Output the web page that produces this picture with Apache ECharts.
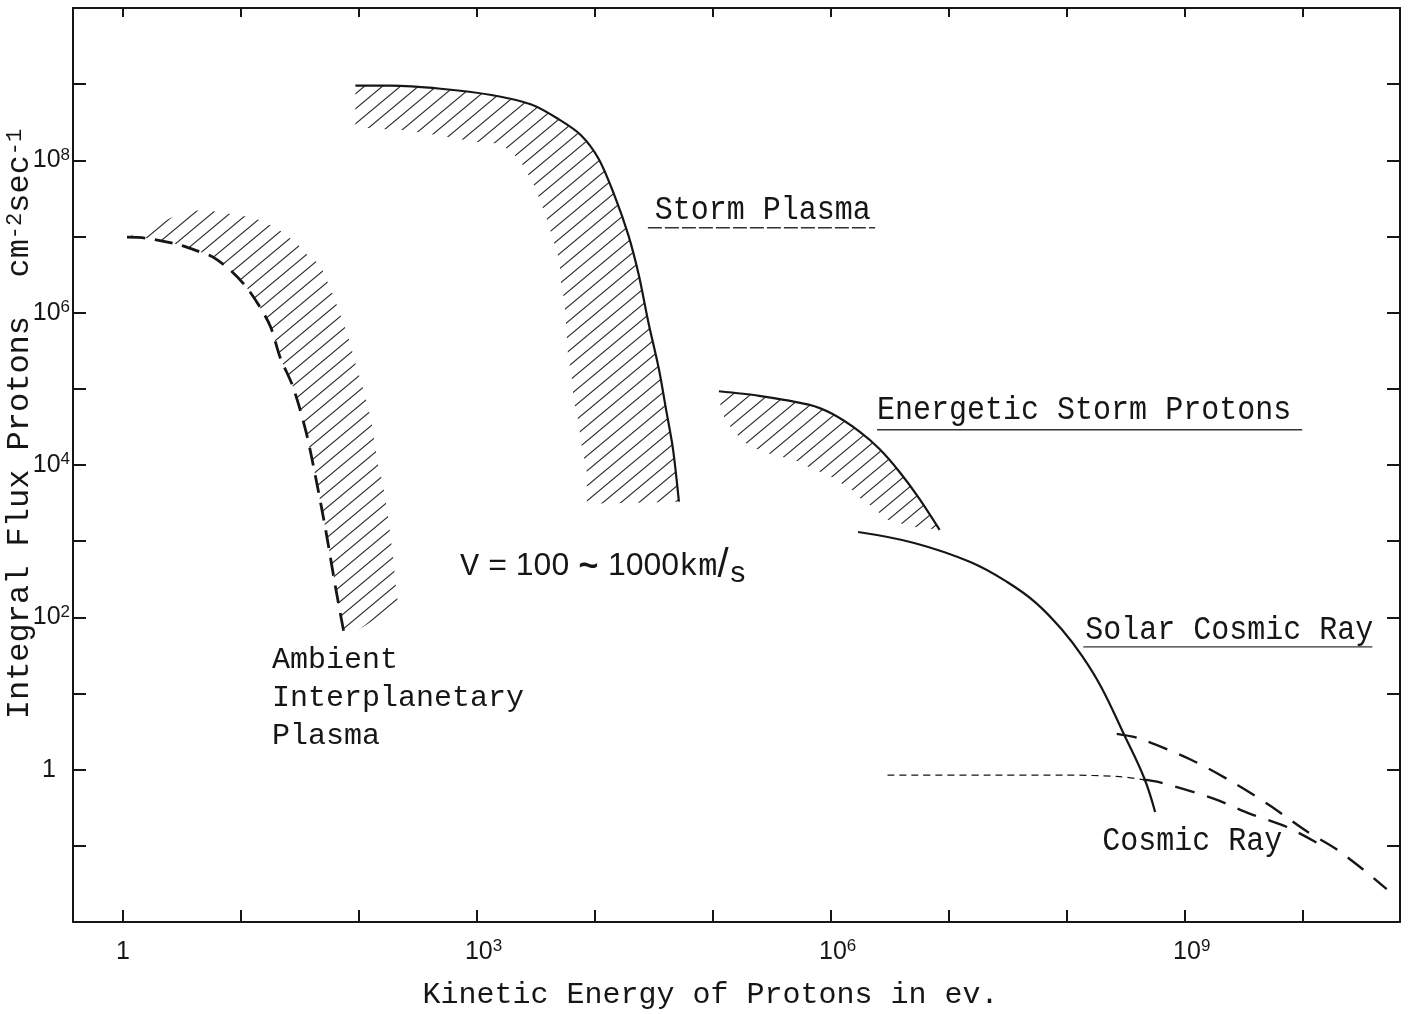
<!DOCTYPE html>
<html><head><meta charset="utf-8">
<script src="https://cdn.jsdelivr.net/npm/echarts@6/dist/echarts.min.js"></script>
<style>html,body{margin:0;padding:0;background:#fff}#c{width:1415px;height:1014px}</style>
</head><body><div id="c"></div>
<script>
// ---- axes (exponents of ten) ----
const xTickExps = [0,1,2,3,4,5,6,7,8,9,10];
const xLabelExps = [0,3,6,9];
const yTickExps = [-1,0,1,2,3,4,5,6,7,8,9];
const yLabelExps = [0,2,4,6,8];

// ---- Ambient interplanetary plasma (dashed curve, eV / cm^-2 s^-1) ----
const ambientEnergy = [1.08,1.58,2.88,4.47,5.75,8.13,11.0,14.1,17.8,21.4,27.5,35.5,42.7,52.5,63.1,76];
const ambientFlux   = [9.8e6,9.5e6,7.9e6,6.3e6,5.4e6,3.6e6,2.2e6,1.26e6,6.5e5,2.6e5,1.07e5,2.75e4,7.1e3,1.32e3,251,52.5];
// outer edge of its hatched band
const ambientEdgeEnergy = [1.62,3.24,5.0,7.1,9.8,14.1,20.4,30.2,36.3,46.8,60.3,69.2,81.3,93.3,107,126,145,158,174,195,204,214];
const ambientEdgeFlux   = [1.26e7,2.1e7,2.24e7,2.04e7,1.9e7,1.66e7,1.26e7,7.9e6,5.75e6,4.27e6,1.7e6,9.5e5,4.8e5,2.14e5,1.07e5,4.07e4,1.0e4,6.0e3,2.45e3,589,269,148];

// ---- Storm plasma ----
const stormEnergy = [93,186,490,1320,2880,4900,7590,10700,14500,19100,23400,28200,34700,39800,45700,51300];
const stormFlux   = [9.55e8,9.55e8,8.7e8,7.2e8,5.4e8,3.47e8,2.14e8,1.05e8,3.55e7,1.05e7,3.16e6,7.6e5,1.82e5,5.5e4,1.62e4,3.3e3];
const stormEdgeEnergy = [93,138,234,468,977,1510,1860,2290,2630,3020,3470,3980,4470,5010,5130,5500,5750,5890,6310,6610,7240,7590,8510,8510];
const stormEdgeFlux   = [2.75e8,2.6e8,2.5e8,2.14e8,1.74e8,1.66e8,1.38e8,1.02e8,7.1e7,4.8e7,2.8e7,1.55e7,8.5e6,4.7e6,2.5e6,1.38e6,5.1e5,2.8e5,1.5e5,6.8e4,3.7e4,2.0e4,8.1e3,3.1e3];

// ---- Energetic storm protons ----
const energeticEnergy = [1.12e5,2.45e5,6.46e5,1.02e6,1.74e6,2.57e6,3.8e6,5.6e6,8.3e6];
const energeticFlux   = [9.3e4,8.1e4,6.2e4,4.7e4,2.75e4,1.62e4,8.1e3,3.6e3,1.41e3];
const energeticEdgeEnergy = [1.12e5,1.26e5,1.51e5,1.82e5,2.34e5,3.24e5,4.9e5,6.9e5,9.5e5,1.17e6,1.51e6,1.82e6,2.34e6,2.88e6,4.9e6];
const energeticEdgeFlux   = [7.2e4,3.9e4,2.75e4,2.0e4,1.62e4,1.35e4,1.17e4,8.9e3,7.4e3,6.0e3,4.7e3,3.5e3,2.7e3,1.95e3,1.55e3];

// ---- Solar cosmic ray ----
const solarEnergy = [1.69e6,5.05e6,1.51e7,3.10e7,5.46e7,9.08e7,1.34e8,1.94e8,2.99e8,4.49e8,5.56e8];
const solarFlux   = [1318,946,532,291,154,68.2,31.0,12.2,3.03,0.778,0.278];

// ---- Cosmic ray ----
const cosmicFineEnergy = [3.0e6,2.8e7,9.5e7,2.8e8,4.4e8];
const cosmicFineFlux   = [0.85,0.85,0.85,0.81,0.74];
const cosmicLowerEnergy = [4.4e8,5.9e8,1.74e9,3.55e9,7.2e9,1.62e10];
const cosmicLowerFlux   = [0.74,0.69,0.417,0.263,0.178,0.091];
const cosmicUpperEnergy = [2.63e8,4.07e8,1.12e9,2.5e9,5.1e9,1.07e10,1.9e10,3.16e10,5.1e10];
const cosmicUpperFlux   = [2.95,2.57,1.35,0.69,0.347,0.155,0.091,0.050,0.027];

// ---- annotations (anchored in data space) ----
const noteTexts  = ['Storm Plasma','Energetic Storm Protons','Solar Cosmic Ray','Cosmic Ray'];
const noteEnergy = [3.2e4,2.45e6,1.42e8,1.98e8];
const noteFlux   = [2.2e7,5.2e4,68,0.115];
const underlineEnergyFrom = [2.8e4,2.45e6,1.37e8];
const underlineEnergyTo   = [2.36e6,9.8e9,3.85e10];
const underlineFlux       = [1.3e7,2.9e4,41];
const ambientNoteText = 'Ambient\nInterplanetary\nPlasma';
const ambientNoteAt = [18.3, 49];
const speedNoteAt = [718, 470];

const L = Math.log10;
const pts = (E, F) => E.map((e, i) => [L(e), L(F[i])]);

const MONO = '"Liberation Mono","DejaVu Sans Mono",monospace';
const NUM = '"Liberation Sans Narrow","Liberation Sans",Arial,sans-serif';
const SANS = '"Liberation Sans",Arial,sans-serif';
const INK = '#161616';

function makeHatch() {
  const w = 18, h = 15, c = document.createElement('canvas');
  c.width = w; c.height = h;
  const g = c.getContext('2d');
  g.strokeStyle = '#2a2a2a'; g.lineWidth = 1.1;
  g.beginPath();
  [[0,0],[-w,0],[w,0],[0,-h],[0,h]].forEach(([dx,dy]) => { g.moveTo(dx, h + dy); g.lineTo(w + dx, dy); });
  g.stroke();
  return c;
}
const hatch = makeHatch();

function hatchSeries(curve, edge) {
  const poly = curve.concat(edge.slice().reverse());
  return {
    type: 'custom', silent: true, z: 1, data: [poly[0]],
    renderItem: (p, api) => ({
      type: 'polygon',
      shape: { points: poly.map(q => api.coord(q)) },
      style: { fill: { image: hatch, repeat: 'repeat' }, stroke: null }
    })
  };
}
function lineSeries(data, width, dash, smooth) {
  return {
    type: 'line', data, showSymbol: false, symbol: 'none', silent: true, z: 3,
    smooth: smooth === undefined ? 0.3 : smooth,
    lineStyle: { color: INK, width, type: dash || 'solid', cap: 'butt' }
  };
}

const supRich = {
  b: { fontFamily: NUM, fontSize: 25, color: INK, lineHeight: 28 },
  bl: { fontFamily: NUM, fontSize: 25, color: INK, lineHeight: 28, padding: [0,0,0,13] },
  s: { fontFamily: NUM, fontSize: 17, color: INK, verticalAlign: 'top', lineHeight: 12 },
  one: { fontFamily: NUM, fontSize: 25, color: INK, lineHeight: 28 },
  oneY: { fontFamily: NUM, fontSize: 25, color: INK, lineHeight: 28, padding: [0,14,0,0] }
};

const ambientCurve = pts(ambientEnergy, ambientFlux);
const stormCurve = pts(stormEnergy, stormFlux);
const energeticCurve = pts(energeticEnergy, energeticFlux);

const series = [
  hatchSeries(ambientCurve, pts(ambientEdgeEnergy, ambientEdgeFlux)),
  hatchSeries(stormCurve, pts(stormEdgeEnergy, stormEdgeFlux)),
  hatchSeries(energeticCurve, pts(energeticEdgeEnergy, energeticEdgeFlux)),
  lineSeries(ambientCurve, 2.8, [18, 10]),
  lineSeries(stormCurve, 2.2),
  lineSeries(energeticCurve, 2.2),
  lineSeries(pts(solarEnergy, solarFlux), 2.2, 'solid', 0.4),
  lineSeries(pts(cosmicFineEnergy, cosmicFineFlux), 1.2, [7, 5]),
  lineSeries(pts(cosmicLowerEnergy, cosmicLowerFlux), 2.4, [20, 13]),
  lineSeries(pts(cosmicUpperEnergy, cosmicUpperFlux), 2.4, [20, 13])
];
underlineFlux.forEach((f, i) => {
  const s = lineSeries([[L(underlineEnergyFrom[i]), L(f)], [L(underlineEnergyTo[i]), L(f)]], 1.4, i === 0 ? [14, 3] : 'solid', false);
  s.lineStyle.color = '#333';
  series.push(s);
});
series.push({
  type: 'custom', silent: true, z: 5,
  data: noteTexts.map((t, i) => [L(noteEnergy[i]), L(noteFlux[i])]),
  renderItem: (p, api) => {
    const c = api.coord([api.value(0), api.value(1)]);
    return { type: 'text', x: c[0], y: c[1], scaleY: 1.12,
      style: { text: noteTexts[p.dataIndex], fontFamily: MONO, fontSize: 30, fill: INK, align: 'left', verticalAlign: 'middle' } };
  }
});
series.push({
  type: 'custom', silent: true, z: 5,
  data: [[L(ambientNoteAt[0]), L(ambientNoteAt[1])]],
  renderItem: (p, api) => {
    const c = api.coord([api.value(0), api.value(1)]);
    return { type: 'text', x: c[0], y: c[1],
      style: { text: ambientNoteText, fontFamily: MONO, fontSize: 30, lineHeight: 38, fill: INK, align: 'left', verticalAlign: 'top' } };
  }
});
series.push({
  type: 'custom', silent: true, z: 5,
  data: [[L(speedNoteAt[0]), L(speedNoteAt[1])]],
  renderItem: (p, api) => {
    const c = api.coord([api.value(0), api.value(1)]);
    return { type: 'text', x: c[0], y: c[1],
      style: { text: '{m|V}{n| = 100}{t| ~ }{n|1000}{m|km}{sl|/}{ss|s}', align: 'left', verticalAlign: 'middle',
        rich: {
          m: { fontFamily: MONO, fontSize: 32, fill: INK, lineHeight: 36 },
          n: { fontFamily: SANS, fontSize: 32, fill: INK, lineHeight: 36 },
          t: { fontFamily: SANS, fontSize: 34, fill: INK, lineHeight: 36, fontWeight: 'bold' },
          sl: { fontFamily: SANS, fontSize: 40, fill: INK, lineHeight: 36 },
          ss: { fontFamily: MONO, fontSize: 30, fill: INK, lineHeight: 36, padding: [16, 0, 0, 0] }
        } } };
  }
});

const axisLine = { show: true, onZero: false, lineStyle: { color: INK, width: 2 } };
const tick = (vals, len) => ({ show: true, inside: true, length: len, customValues: vals, lineStyle: { color: INK, width: 2 } });

const option = {
  animation: false,
  backgroundColor: '#fff',
  grid: { left: 73, right: 15, top: 8, bottom: 92, containLabel: false, outerBoundsMode: 'none' },
  xAxis: [
    { type: 'value', position: 'bottom', min: -0.424, max: 10.82,
      axisLine, axisTick: tick(xTickExps, 12), splitLine: { show: false },
      axisLabel: { customValues: xLabelExps, margin: 16, color: INK,
        formatter: v => v === 0 ? '{one|1}' : '{bl|10}{s|' + v + '}', rich: supRich },
      name: 'Kinetic Energy of Protons in ev.', nameLocation: 'middle', nameGap: 58, nameMoveOverlap: false,
      nameTextStyle: { fontFamily: MONO, fontSize: 30, color: INK, padding: [0, 52, 0, 0] } },
    { type: 'value', position: 'top', min: -0.424, max: 10.82,
      axisLine, axisTick: tick(xTickExps, 9), splitLine: { show: false }, axisLabel: { show: false } }
  ],
  yAxis: [
    { type: 'value', position: 'left', min: -2, max: 10,
      axisLine, axisTick: tick(yTickExps, 13), splitLine: { show: false },
      axisLabel: { customValues: yLabelExps, margin: 3, color: INK,
        formatter: v => v === 0 ? '{oneY|1}' : '{b|10}{s|' + v + '}', rich: supRich },
      name: 'Integral Flux Protons  cm{s|-2}sec{s|-1}', nameLocation: 'middle', nameGap: 37, nameMoveOverlap: false,
      nameTextStyle: { fontFamily: MONO, fontSize: 32, color: INK, padding: [0, 0, 0, 82],
        rich: { s: { fontFamily: MONO, fontSize: 22, color: INK, verticalAlign: 'top', lineHeight: 14 } } } },
    { type: 'value', position: 'right', min: -2, max: 10,
      axisLine, axisTick: tick(yTickExps, 13), splitLine: { show: false }, axisLabel: { show: false } }
  ],
  series
};
echarts.init(document.getElementById('c')).setOption(option);
</script></body></html>
